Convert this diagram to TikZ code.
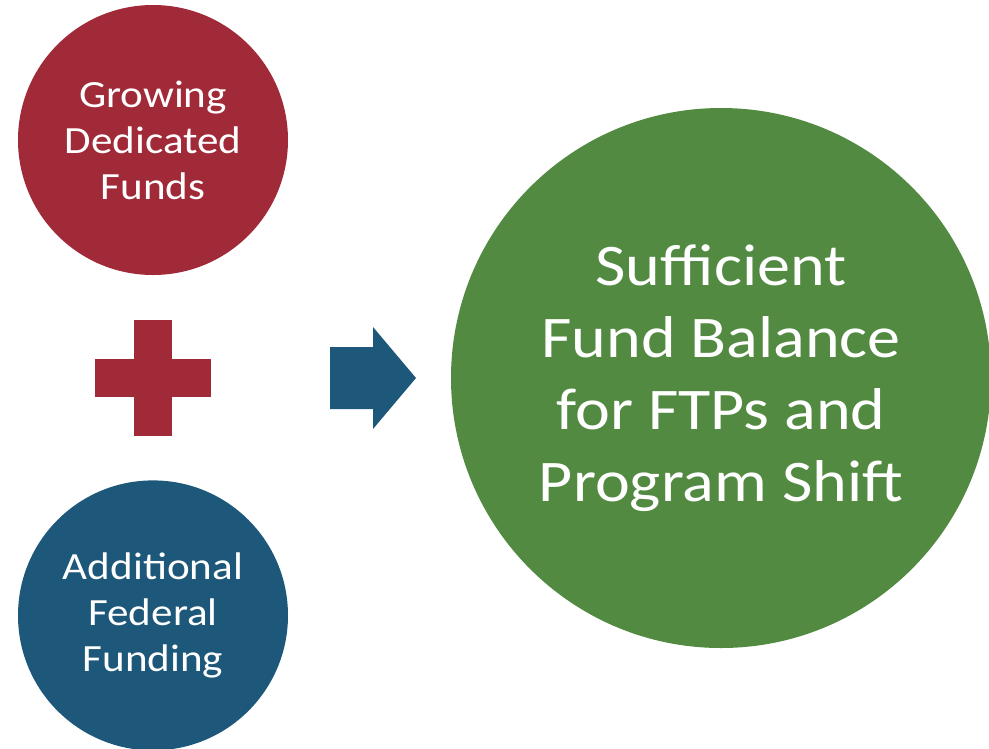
\documentclass[tikz,border=0pt]{standalone}
\usepackage{fontspec}
\setmainfont{Carlito}[FakeStretch=1.12]
\usepackage{xcolor}
\usetikzlibrary{calc}
\usetikzlibrary{positioning}

\definecolor{fundred}{HTML}{A02A38}
\definecolor{fundblue}{HTML}{1D5779}
\definecolor{fundgreen}{HTML}{528A41}

\begin{document}
\begin{tikzpicture}[x=1pt,y=-1pt,node distance=205pt]
	\tikzstyle{src}=[circle, minimum size=270pt, inner sep=0pt, text=white, align=center, font=\fontsize{38.5}{46}\selectfont]
	\tikzstyle{res}=[circle, minimum size=540pt, inner sep=0pt, text=white, align=center, font=\fontsize{59}{72}\selectfont, fill=fundgreen]
	\useasboundingbox (0,0) rectangle (989,748);
	\node[src, fill=fundred]	(grow)	at (153,140)	{Growing\\Dedicated\\Funds};
	\node[src, fill=fundblue]	(fed)	[below=of grow]	{Additional\\Federal\\Funding};
	\node[res]	(bal)	at (721,378)	{Sufficient\\Fund Balance\\for FTPs and\\Program Shift};
	% plus sign between the two sources
	\coordinate (plus) at ($(grow)!0.5!(fed)$);
	\fill[fundred] ($(plus)+(-19,-58)$) rectangle ($(plus)+(19,58)$);
	\fill[fundred] ($(plus)+(-58,-19)$) rectangle ($(plus)+(58,19)$);
	% block arrow
	\coordinate (arr) at (330,378);
	\fill[fundblue] ($(arr)+(0,-31)$) -- ++(43,0) -- ++(0,-20) -- ($(arr)+(86,0)$)
		-- ($(arr)+(43,51)$) -- ++(0,-20) -- ($(arr)+(0,31)$) -- cycle;
\end{tikzpicture}
\end{document}
